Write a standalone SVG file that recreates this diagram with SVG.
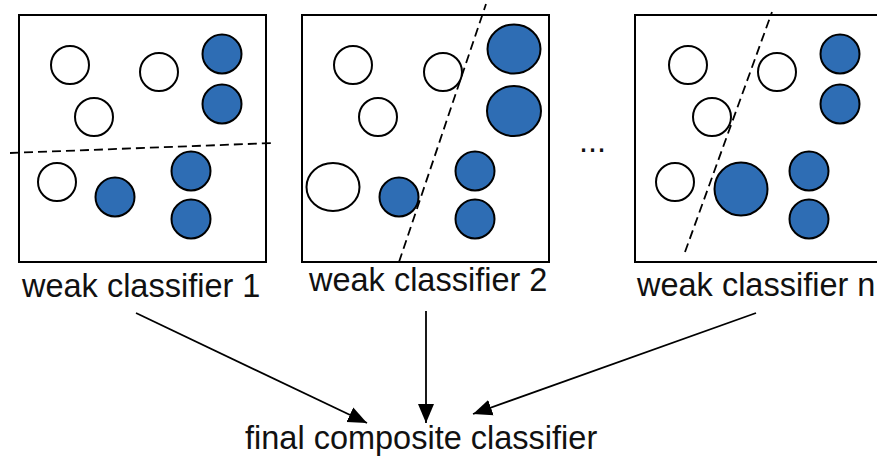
<svg xmlns="http://www.w3.org/2000/svg" width="877" height="469" viewBox="0 0 877 469">
  <style>
    .frame { fill: #ffffff; stroke: #000000; stroke-width: 2; }
    .neg { fill: #ffffff; stroke: #000000; stroke-width: 2; }
    .pos { fill: #2E6DB4; stroke: #000000; stroke-width: 2; }
    .split { fill: none; stroke: #000000; stroke-width: 1.8; stroke-dasharray: 9 5; }
    .label { font-family: "Liberation Sans", Arial, Helvetica, sans-serif; font-size: 32.5px; fill: #111111; }
    .edge { fill: none; stroke: #000000; stroke-width: 1.8; }
  </style>
  <defs>
    <marker id="arrow" markerUnits="userSpaceOnUse" markerWidth="20" markerHeight="18" viewBox="0 0 20 18" refX="19" refY="9" orient="auto">
      <path d="M0,1 L19,9 L0,17 Z" fill="#000000"/>
    </marker>
  </defs>

  <rect width="877" height="469" fill="#ffffff"/>

  <!-- weak classifier 1: horizontal split -->
  <g id="classifier1">
    <rect class="frame" x="19" y="15" width="247" height="247"/>
    <circle class="neg" cx="70" cy="65" r="19"/>
    <circle class="neg" cx="159" cy="72" r="19"/>
    <circle class="pos" cx="222" cy="54" r="19.5"/>
    <circle class="neg" cx="94" cy="117" r="19"/>
    <circle class="pos" cx="222" cy="104" r="19.5"/>
    <circle class="neg" cx="57" cy="182" r="19"/>
    <circle class="pos" cx="115" cy="197" r="19.5"/>
    <circle class="pos" cx="191" cy="171" r="19.5"/>
    <circle class="pos" cx="191" cy="219" r="19.5"/>
    <line class="split" x1="10" y1="153" x2="274" y2="143"/>
    <text class="label" x="22" y="297">weak classifier 1</text>
  </g>

  <!-- weak classifier 2: steep diagonal split, reweighted points -->
  <g id="classifier2">
    <rect class="frame" x="302" y="15" width="247" height="247"/>
    <circle class="neg" cx="353" cy="65" r="19"/>
    <circle class="neg" cx="443" cy="72" r="19"/>
    <ellipse class="pos" cx="514" cy="49" rx="26.5" ry="24.5"/>
    <circle class="neg" cx="378" cy="117" r="19"/>
    <ellipse class="pos" cx="514" cy="111" rx="27" ry="25"/>
    <ellipse class="neg" cx="333" cy="187" rx="26.5" ry="24"/>
    <circle class="pos" cx="399" cy="197" r="19.5"/>
    <circle class="pos" cx="475" cy="171" r="19.5"/>
    <circle class="pos" cx="475" cy="219" r="19.5"/>
    <line class="split" x1="399" y1="262" x2="486" y2="4"/>
    <text class="label" x="309" y="291">weak classifier 2</text>
  </g>

  <text id="ellipsis" class="label" x="579" y="152">...</text>

  <!-- weak classifier n -->
  <g id="classifierN">
    <rect class="frame" x="635" y="15" width="247" height="247"/>
    <circle class="neg" cx="688" cy="65" r="19"/>
    <circle class="neg" cx="777" cy="72" r="19"/>
    <circle class="pos" cx="840" cy="54" r="19.5"/>
    <circle class="neg" cx="712" cy="117" r="19"/>
    <circle class="pos" cx="840" cy="104" r="19.5"/>
    <circle class="neg" cx="675" cy="182" r="19"/>
    <circle class="pos" cx="741" cy="189" r="26.5"/>
    <circle class="pos" cx="809" cy="171" r="19.5"/>
    <circle class="pos" cx="809" cy="219" r="19.5"/>
    <line class="split" x1="685" y1="252" x2="772" y2="12"/>
    <text class="label" x="637" y="296">weak classifier n</text>
  </g>

  <g id="combined">
    <text class="label" x="245" y="449">final composite classifier</text>
  </g>

  <!-- votes flowing into the combined classifier -->
  <g id="connectors">
    <line class="edge" x1="136" y1="313" x2="367" y2="423" marker-end="url(#arrow)"/>
    <line class="edge" x1="426" y1="311" x2="426" y2="423" marker-end="url(#arrow)"/>
    <line class="edge" x1="756" y1="313" x2="473" y2="414" marker-end="url(#arrow)"/>
  </g>
</svg>
